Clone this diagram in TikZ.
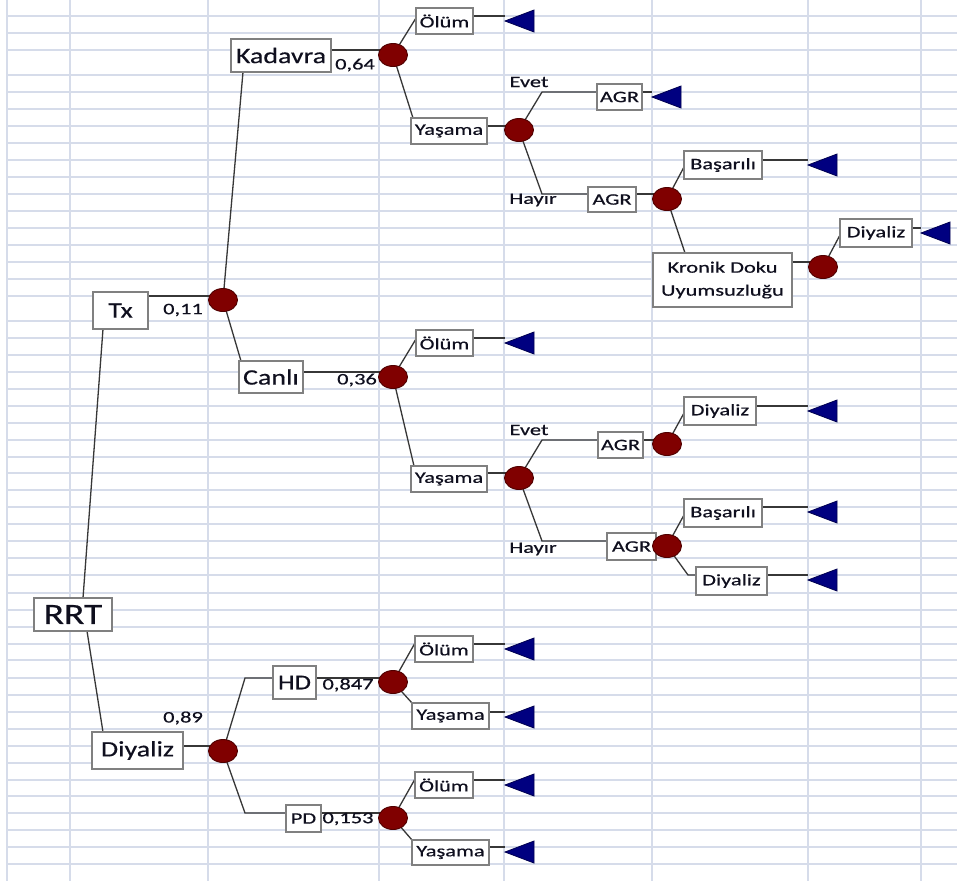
\documentclass[tikz,border=0pt]{standalone}
\usepackage{fontspec}
\setmainfont{Carlito}
\newfontfamily\fsmall{Carlito}[FakeStretch=1.4,FakeBold=0.5]
\newfontfamily\fbig{Carlito}[FakeStretch=1.27,FakeBold=0.5]
\usetikzlibrary{shapes.geometric}
\pgfdeclarelayer{gridlayer}
\pgfdeclarelayer{linelayer}
\pgfsetlayers{gridlayer,linelayer,main}
\definecolor{gridc}{RGB}{214,220,234}
\definecolor{boxc}{RGB}{128,128,128}
\definecolor{lnc}{RGB}{55,55,55}
\definecolor{chf}{RGB}{128,0,0}
\definecolor{chd}{RGB}{80,0,0}
\definecolor{trif}{RGB}{0,0,128}
\definecolor{trid}{RGB}{0,0,80}
\definecolor{txt}{RGB}{15,15,30}
\newcommand\myleaf[3]{\coordinate (#1) at (#2,#3);
  \filldraw[tri] (#2,#3) ++(0,5) -- ++(29,-11) -- ++(0,22) -- cycle;}
\begin{document}
\begin{tikzpicture}[x=1pt,y=-1pt,
  cellbox/.style={draw=boxc, fill=white, line width=1.1pt, inner sep=0pt, outer sep=0pt, anchor=north west, align=center, text=txt},
  sbox/.style={cellbox, font=\fsmall\fontsize{16}{19}\selectfont},
  bbox/.style={cellbox, font=\fbig\fontsize{22}{26}\selectfont},
  chance/.style={ellipse, draw=chd, fill=chf, line width=0.9pt, minimum width=29pt, minimum height=23pt, inner sep=0pt, outer sep=0pt},
  tri/.style={fill=trif, draw=trid, line width=0.8pt, line join=miter},
  conn/.style={draw=lnc, line width=1.3pt},
  lab/.style={font=\fsmall\fontsize{16}{19}\selectfont, text=txt, inner sep=0pt},
  gridl/.style={draw=gridc, line width=1.3pt}]
\useasboundingbox (0,0) rectangle (957,881);

% grid
\begin{pgfonlayer}{gridlayer}
\fill[white] (0,0) rectangle (957,881);
\foreach \x in {7,70,208,379,504,652,808,921} \draw[gridl] (\x,0) -- (\x,881);
\foreach \y in {16,33,50,75,92,109,126,143,160,177,194,211,228,245,262,279,296,321,338,355,372,389,406,423,440,457,473,490,507,524,541,558,575,593,610,627,644,660,678,695,712,729,746,763,780,796,813,830,847,864}
  \draw[gridl] (7,\y) -- (957,\y);
\end{pgfonlayer}

% boxes
\node[bbox, minimum width=78pt, minimum height=33pt, font=\fbig\fontsize{29.5}{32}\selectfont] (rrt) at (34,598) {RRT};
\node[bbox, minimum width=55pt, minimum height=37pt] (tx) at (93,292) {Tx};
\node[bbox, minimum width=100pt, minimum height=33pt] (kad) at (231,39) {Kadavra};
\node[bbox, minimum width=64pt, minimum height=32pt] (canli) at (239,361) {Canlı};
\node[bbox, minimum width=91pt, minimum height=37pt] (diy) at (92,732) {Diyaliz};
\node[bbox, minimum width=43pt, minimum height=33pt, font=\fbig\fontsize{21}{25}\selectfont] (hd) at (273,666) {HD};
\node[sbox, minimum width=35pt, minimum height=27pt] (pd) at (286,805) {PD};

\node[sbox, minimum width=57pt, minimum height=26pt] (ol1) at (416,8) {Ölüm};
\node[sbox, minimum width=76pt, minimum height=26pt] (ya1) at (411,118) {Yaşama};
\node[sbox, minimum width=45pt, minimum height=26pt] (agr1) at (597,84) {AGR};
\node[sbox, minimum width=48pt, minimum height=25pt] (agr2) at (588,187) {AGR};
\node[sbox, minimum width=78pt, minimum height=28pt] (bas1) at (684,151) {Başarılı};
\node[sbox, minimum width=139pt, minimum height=54pt, font=\fsmall\fontsize{16}{23}\selectfont] (kro) at (653,253) {Kronik Doku\\Uyumsuzluğu};
\node[sbox, minimum width=72pt, minimum height=28pt] (dy1) at (840,219) {Diyaliz};

\node[sbox, minimum width=57pt, minimum height=26pt] (ol2) at (416,330) {Ölüm};
\node[sbox, minimum width=76pt, minimum height=26pt] (ya2) at (411,466) {Yaşama};
\node[sbox, minimum width=45pt, minimum height=26pt] (agr3) at (598,432) {AGR};
\node[sbox, minimum width=72pt, minimum height=28pt] (dy2) at (684,397) {Diyaliz};
\node[sbox, minimum width=49pt, minimum height=27pt] (agr4) at (607,533) {AGR};
\node[sbox, minimum width=78pt, minimum height=28pt] (bas2) at (684,499) {Başarılı};
\node[sbox, minimum width=71pt, minimum height=28pt] (dy3) at (696,567) {Diyaliz};

\node[sbox, minimum width=58pt, minimum height=26pt] (ol3) at (415,636) {Ölüm};
\node[sbox, minimum width=77pt, minimum height=26pt] (ya3) at (412,703) {Yaşama};
\node[sbox, minimum width=58pt, minimum height=26pt] (ol4) at (415,772) {Ölüm};
\node[sbox, minimum width=77pt, minimum height=25pt] (ya4) at (412,840) {Yaşama};

% chance nodes
\node[chance] (c0) at (223,300) {};
\node[chance] (c1) at (393,55) {};
\node[chance] (c2) at (519,130) {};
\node[chance] (c3) at (667,199) {};
\node[chance] (c4) at (823,267) {};
\node[chance] (c5) at (393,377) {};
\node[chance] (c6) at (519,478) {};
\node[chance] (c7) at (667,444) {};
\node[chance] (c8) at (667,546) {};
\node[chance] (c9) at (223,751) {};
\node[chance] (c10) at (393,682) {};
\node[chance] (c11) at (393,818) {};

% terminal nodes
\myleaf{t1}{505}{16}
\myleaf{t2}{652}{92}
\myleaf{t3}{808}{160}
\myleaf{t4}{921}{228}
\myleaf{t5}{505}{338}
\myleaf{t6}{808}{406}
\myleaf{t7}{808}{507}
\myleaf{t8}{808}{575}
\myleaf{t9}{505}{644}
\myleaf{t10}{505}{712}
\myleaf{t11}{505}{780}
\myleaf{t12}{505}{847}

% labels
\node[lab] (p011) at (183,310) {0,11};
\node[lab] (p064) at (355,65) {0,64};
\node[lab] (p036) at (357,380) {0,36};
\node[lab] (p089) at (183,718) {0,89};
\node[lab] (p847) at (348,685) {0,847};
\node[lab] (p153) at (348,819) {0,153};
\node[lab] (ev1) at (529,82) {Evet};
\node[lab] (hy1) at (533,200) {Hayır};
\node[lab] (ev2) at (529,430) {Evet};
\node[lab] (hy2) at (533,549) {Hayır};

% connectors
\begin{pgfonlayer}{linelayer}
\draw[conn] ([xshift=49pt]rrt.north west) -- ([xshift=10pt]tx.south west);
\draw[conn] ([xshift=53pt]rrt.south west) -- ([xshift=11pt]diy.north west);
\draw[conn] ([yshift=-4pt]tx.north east) -- ([yshift=-4pt]tx.north east -| c0);
\draw[conn] (c0) -- ([xshift=12pt]kad.south west);
\draw[conn] (c0) -- ([xshift=2pt]canli.north west);
\draw[conn] ([yshift=-11pt]kad.north east) -- ([yshift=-11pt]kad.north east -| c1);
\draw[conn] (c1) -- ([yshift=-10pt]ol1.north west);
\draw[conn] (c1) -- ([xshift=2pt]ya1.north west);
\draw[conn] ([yshift=-8pt]ol1.north east) -- (t1);
\draw[conn] ([yshift=-8pt]ya1.north east) -- ([yshift=-8pt]ya1.north east -| c2);
\draw[conn] (c2) -- ([xshift=-55pt,yshift=-8pt]agr1.north west) -- ([yshift=-8pt]agr1.north west);
\draw[conn] (c2) -- ([xshift=-46pt,yshift=-7pt]agr2.north west) -- ([yshift=-7pt]agr2.north west);
\draw[conn] ([yshift=-8pt]agr1.north east) -- (t2);
\draw[conn] ([yshift=-7pt]agr2.north east) -- ([yshift=-7pt]agr2.north east -| c3);
\draw[conn] (c3) -- ([yshift=-16pt]bas1.north west);
\draw[conn] (c3) -- ([xshift=32pt]kro.north west);
\draw[conn] ([yshift=-9pt]bas1.north east) -- (t3);
\draw[conn] ([yshift=-9pt]kro.north east) -- ([yshift=-9pt]kro.north east -| c4);
\draw[conn] (c4) -- ([yshift=-16pt]dy1.north west);
\draw[conn] ([yshift=-9pt]dy1.north east) -- (t4);

\draw[conn] ([yshift=-11pt]canli.north east) -- ([yshift=-11pt]canli.north east -| c5);
\draw[conn] (c5) -- ([yshift=-9pt]ol2.north west);
\draw[conn] (c5) -- ([xshift=3pt]ya2.north west);
\draw[conn] ([yshift=-8pt]ol2.north east) -- (t5);
\draw[conn] ([yshift=-7pt]ya2.north east) -- ([yshift=-7pt]ya2.north east -| c6);
\draw[conn] (c6) -- ([xshift=-56pt,yshift=-8pt]agr3.north west) -- ([yshift=-8pt]agr3.north west);
\draw[conn] (c6) -- ([xshift=-65pt,yshift=-8pt]agr4.north west) -- ([yshift=-8pt]agr4.north west);
\draw[conn] ([yshift=-8pt]agr3.north east) -- ([yshift=-8pt]agr3.north east -| c7);
\draw[conn] ([yshift=-8pt]agr4.north east) -- ([yshift=-8pt]agr4.north east -| c8);
\draw[conn] (c7) -- ([yshift=-16pt]dy2.north west);
\draw[conn] ([yshift=-9pt]dy2.north east) -- (t6);
\draw[conn] (c8) -- ([yshift=-16pt]bas2.north west);
\draw[conn] (c8) -- ([xshift=-8pt,yshift=-8pt]dy3.north west) -- ([yshift=-8pt]dy3.north west);
\draw[conn] ([yshift=-8pt]bas2.north east) -- (t7);
\draw[conn] ([yshift=-8pt]dy3.north east) -- (t8);

\draw[conn] ([yshift=-14pt]diy.north east) -- ([yshift=-14pt]diy.north east -| c9);
\draw[conn] (c9) -- ([xshift=-28pt,yshift=-12pt]hd.north west) -- ([yshift=-12pt]hd.north west);
\draw[conn] (c9) -- ([xshift=-41pt,yshift=-8pt]pd.north west) -- ([yshift=-8pt]pd.north west);
\draw[conn] ([yshift=-12pt]hd.north east) -- ([yshift=-12pt]hd.north east -| c10);
\draw[conn] (c10) -- ([yshift=-7pt]ol3.north west);
\draw[conn] (c10) -- (ya3.north west);
\draw[conn] ([yshift=-8pt]ol3.north east) -- (t9);
\draw[conn] ([yshift=-9pt]ya3.north east) -- (t10);
\draw[conn] ([yshift=-8pt]pd.north east) -- ([yshift=-8pt]pd.north east -| c11);
\draw[conn] (c11) -- ([yshift=-7pt]ol4.north west);
\draw[conn] (c11) -- (ya4.north west);
\draw[conn] ([yshift=-8pt]ol4.north east) -- (t11);
\draw[conn] ([yshift=-7pt]ya4.north east) -- (t12);
\end{pgfonlayer}
\end{tikzpicture}
\end{document}
